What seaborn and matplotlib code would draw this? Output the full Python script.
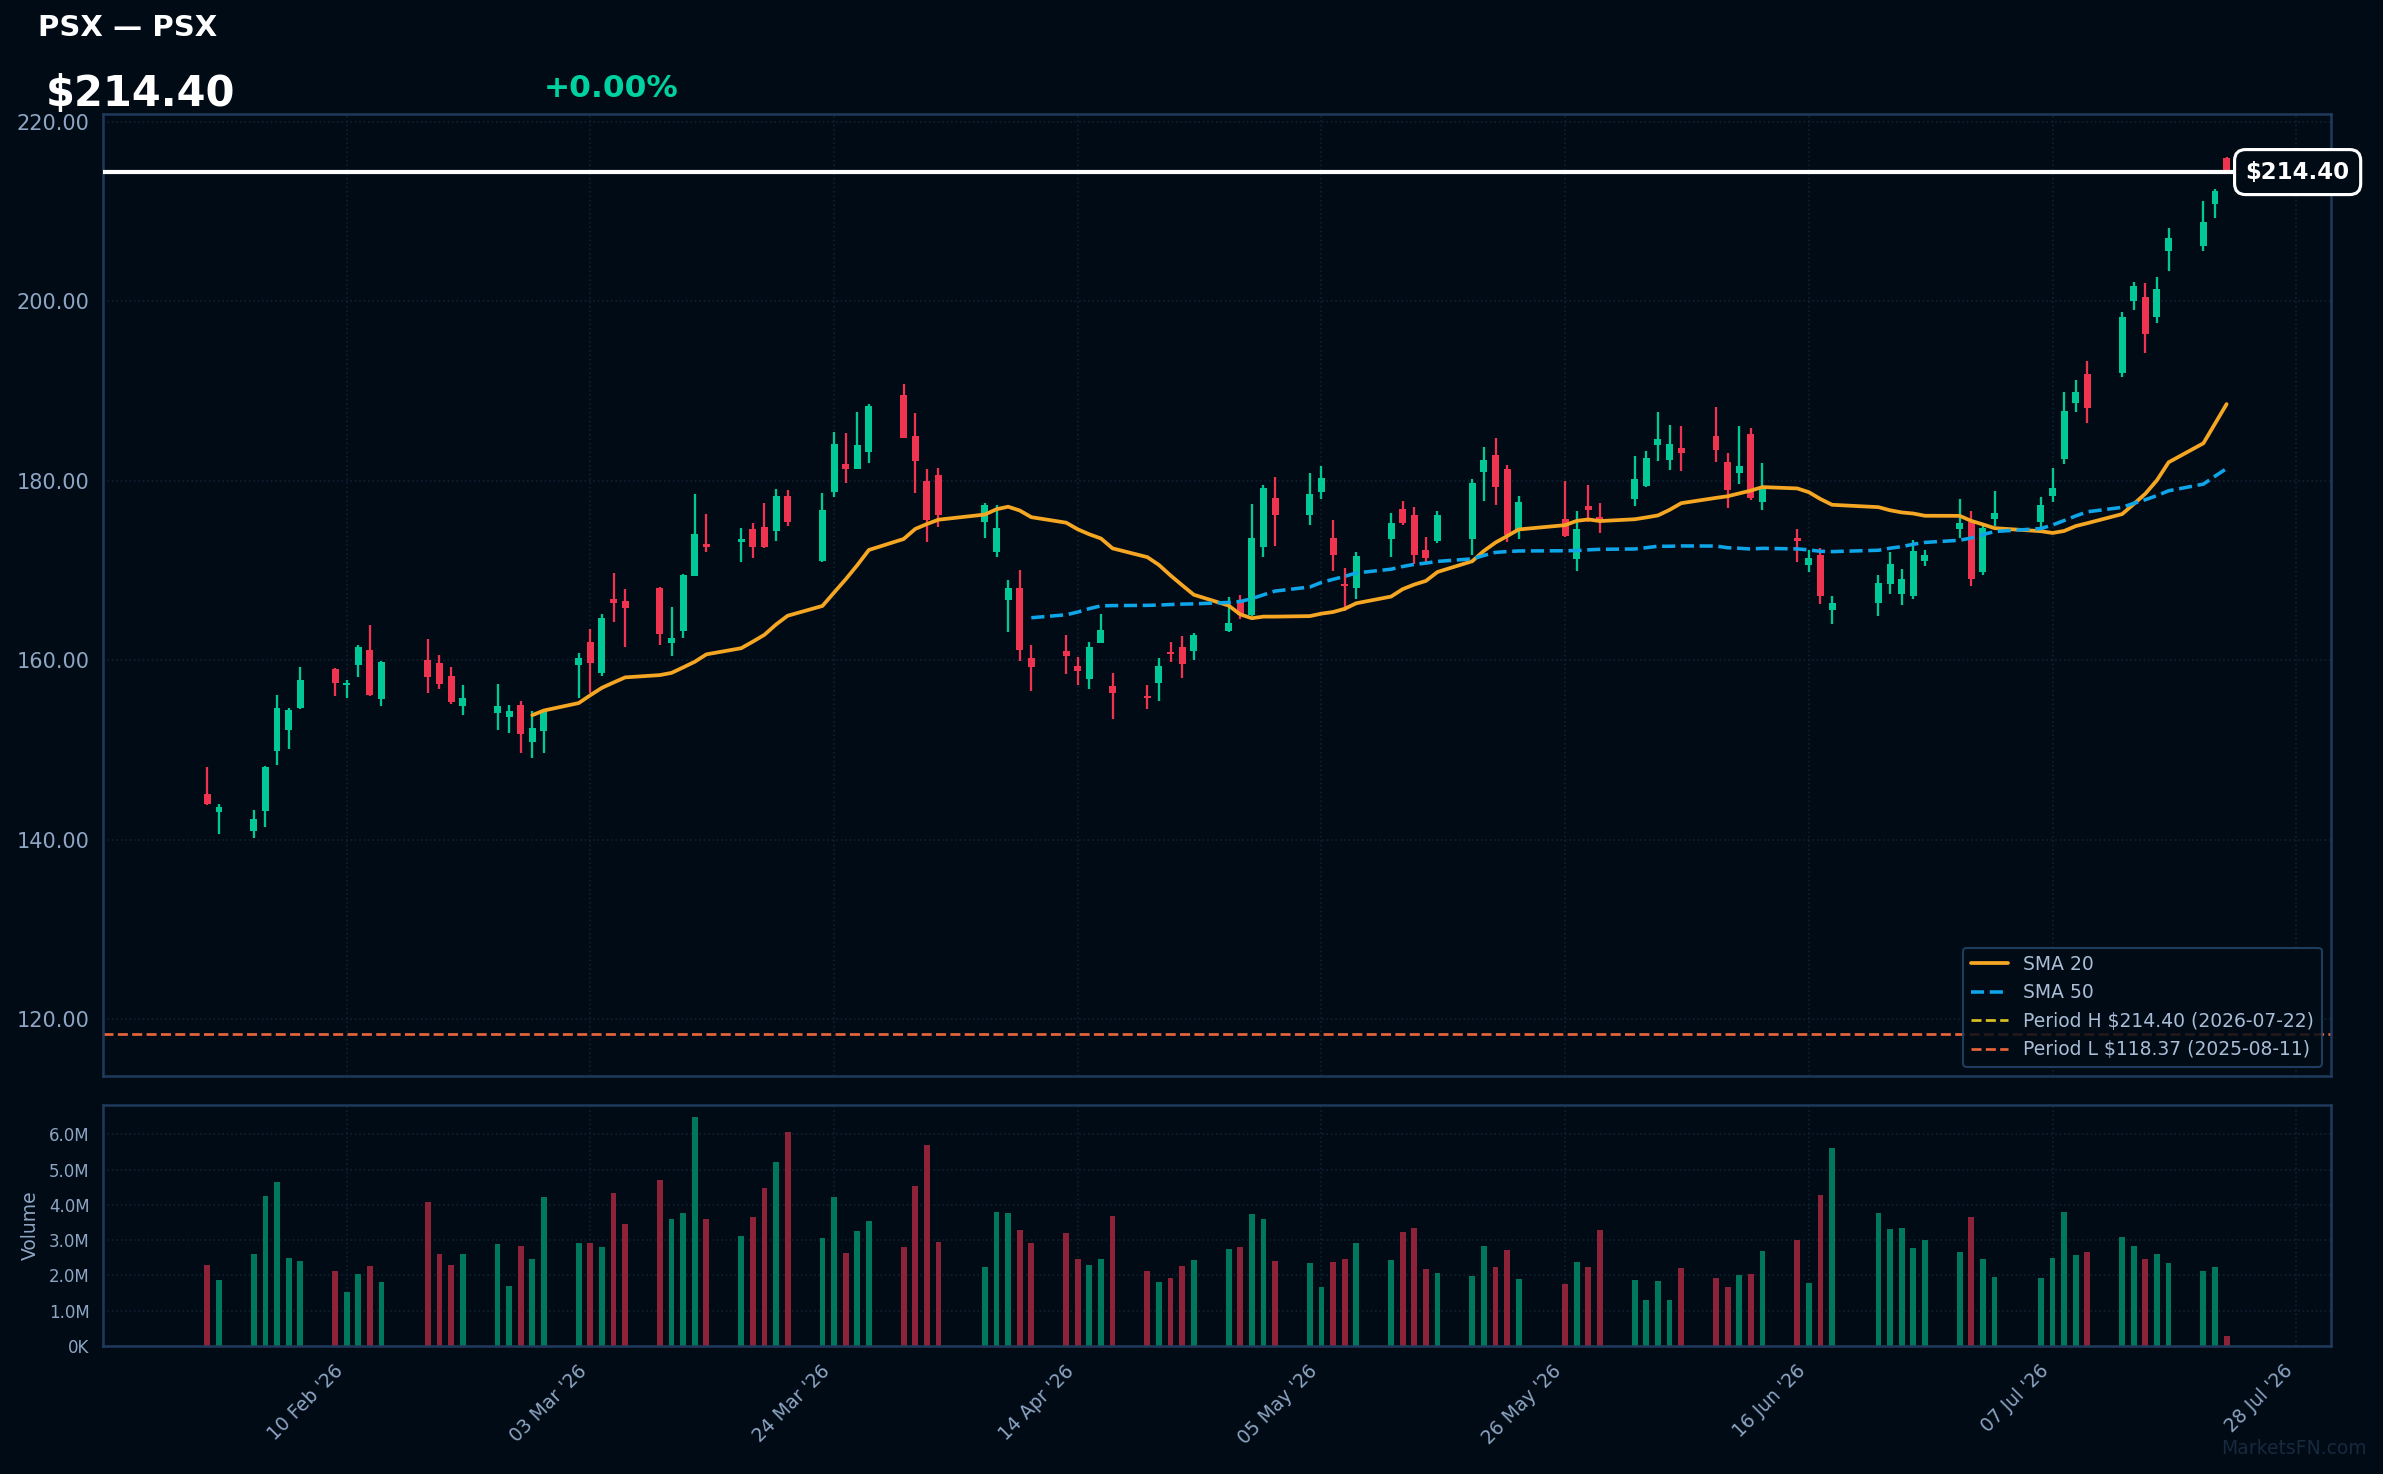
import pandas as pd
import numpy as np
import seaborn as sns
import matplotlib.pyplot as plt
import matplotlib.transforms as mtransforms
from matplotlib.ticker import FuncFormatter, MultipleLocator
import matplotlib.dates as mdates

# trading days (US market holidays removed)
holidays = ["2026-02-16", "2026-04-03", "2026-05-25", "2026-06-19", "2026-07-03"]
dates = pd.bdate_range("2026-01-29", "2026-07-22")
dates = dates[~dates.isin(pd.to_datetime(holidays))]

opens = [145.07, 143.09, 140.97, 143.20, 149.91, 152.25, 154.71, 159.03, 157.21, 159.40,
         161.15, 155.61, 160.00, 159.70, 158.25, 154.93, 154.15, 153.71, 155.01, 150.91,
         152.14, 159.50, 162.03, 158.58, 166.82, 166.59, 168.04, 161.94, 163.28, 169.42,
         172.85, 173.11, 174.64, 174.86, 174.34, 178.32, 171.10, 178.70, 181.90, 181.27,
         183.17, 189.50, 185.03, 179.96, 180.67, 175.36, 172.01, 166.67, 168.08, 160.26,
         161.04, 159.37, 157.84, 161.86, 157.13, 155.90, 157.50, 160.82, 161.49, 160.97,
         163.20, 166.74, 165.07, 172.59, 178.03, 176.16, 178.73, 173.56, 168.42, 168.01,
         173.46, 176.87, 176.20, 172.29, 173.33, 173.45, 180.93, 182.91, 181.34, 174.34,
         175.75, 171.32, 177.21, 175.98, 177.91, 179.44, 183.95, 182.27, 183.69, 185.03,
         182.12, 180.82, 185.25, 177.58, 173.63, 170.60, 171.70, 165.60, 166.40, 168.50,
         167.40, 167.10, 171.00, 174.60, 175.40, 169.80, 175.75, 175.40, 178.30, 182.40,
         188.66, 191.90, 192.05, 200.00, 200.50, 198.30, 205.60, 206.15, 210.85, 216.00]
highs = [148.08, 143.91, 143.28, 148.19, 156.13, 154.67, 159.26, 159.14, 157.80, 161.71,
         163.95, 159.93, 162.38, 160.60, 159.26, 157.24, 157.36, 155.01, 155.46, 154.34,
         154.45, 160.82, 163.48, 165.10, 169.72, 167.93, 168.16, 165.92, 169.61, 178.55,
         176.31, 174.75, 175.31, 177.54, 179.11, 178.99, 178.66, 185.47, 185.36, 187.71,
         188.60, 190.73, 187.49, 181.34, 181.45, 177.46, 177.34, 168.98, 170.09, 161.71,
         162.83, 160.37, 162.05, 165.18, 158.58, 157.24, 160.26, 162.05, 162.72, 163.05,
         167.08, 167.30, 177.36, 179.48, 180.37, 180.82, 181.60, 175.57, 170.32, 172.10,
         176.44, 177.77, 177.09, 173.74, 176.65, 180.22, 183.80, 184.80, 181.79, 178.32,
         180.00, 176.65, 179.55, 177.54, 182.79, 183.35, 187.60, 186.26, 186.15, 188.16,
         183.13, 186.15, 185.92, 182.01, 174.64, 172.30, 172.50, 167.10, 169.50, 172.00,
         170.20, 173.40, 172.30, 178.00, 176.60, 175.20, 178.80, 178.20, 181.40, 189.90,
         191.20, 193.30, 198.80, 202.20, 202.07, 202.70, 208.18, 211.15, 212.49, 216.10]
lows = [143.87, 140.63, 140.19, 141.42, 148.34, 150.13, 154.60, 156.05, 155.72, 158.06,
        156.05, 154.93, 156.28, 156.83, 155.05, 153.93, 152.25, 151.92, 149.65, 149.12,
        149.65, 155.72, 156.30, 158.25, 164.28, 161.49, 161.71, 160.48, 162.50, 169.42,
        172.10, 170.88, 171.43, 172.50, 173.22, 174.90, 170.88, 178.14, 179.70, 181.27,
        181.94, 184.73, 178.58, 173.11, 174.79, 173.58, 171.45, 163.09, 159.85, 156.50,
        158.40, 157.17, 156.83, 161.86, 153.48, 154.60, 155.49, 159.74, 157.95, 159.96,
        163.09, 164.54, 164.95, 171.47, 172.70, 175.05, 177.91, 169.91, 165.44, 166.78,
        171.45, 175.01, 170.76, 170.88, 173.00, 171.77, 177.69, 177.24, 173.11, 173.45,
        173.67, 169.98, 175.42, 174.19, 177.13, 179.26, 182.16, 181.15, 181.04, 182.05,
        176.91, 179.59, 177.80, 176.69, 170.99, 169.80, 166.20, 164.00, 164.90, 167.40,
        166.10, 166.80, 170.50, 173.60, 168.30, 169.50, 175.00, 174.80, 177.60, 181.90,
        187.70, 186.40, 191.60, 199.00, 194.26, 197.60, 203.40, 205.60, 209.29, 214.30]
closes = [143.95, 143.61, 142.27, 148.08, 154.67, 154.45, 157.80, 157.50, 157.32, 161.49,
          156.16, 159.81, 158.06, 157.39, 155.38, 155.79, 154.90, 154.34, 151.81, 152.44,
          154.34, 160.24, 159.72, 164.69, 166.41, 165.85, 162.94, 162.46, 169.50, 174.08,
          172.66, 173.52, 172.66, 172.66, 178.32, 175.34, 176.76, 184.13, 181.27, 184.02,
          188.27, 184.73, 182.16, 175.57, 176.13, 177.34, 174.75, 168.08, 161.08, 159.18,
          160.41, 158.73, 161.49, 163.39, 156.28, 155.72, 159.37, 160.67, 159.52, 162.83,
          164.17, 165.07, 173.56, 179.14, 176.16, 178.47, 180.26, 171.69, 168.23, 171.55,
          175.32, 175.31, 171.77, 171.43, 176.20, 179.78, 182.35, 179.26, 173.89, 177.65,
          173.78, 174.64, 176.69, 175.53, 180.22, 182.57, 184.69, 184.13, 183.05, 183.39,
          178.92, 181.68, 178.03, 179.26, 173.22, 171.40, 167.10, 166.40, 168.60, 170.70,
          169.00, 172.20, 171.70, 175.30, 169.00, 174.70, 176.40, 177.30, 179.15, 187.80,
          189.85, 188.15, 198.30, 201.70, 196.30, 201.40, 207.00, 208.86, 212.27, 214.40]
volumes_m = [2.30, 1.87, 2.61, 4.26, 4.66, 2.50, 2.41, 2.13, 1.53, 2.04,
             2.27, 1.81, 4.09, 2.61, 2.30, 2.61, 2.90, 1.70, 2.84, 2.47,
             4.23, 2.92, 2.92, 2.81, 4.35, 3.47, 4.72, 3.61, 3.78, 6.51,
             3.61, 3.12, 3.66, 4.49, 5.23, 6.06, 3.07, 4.23, 2.64, 3.27,
             3.55, 2.81, 4.55, 5.69, 2.95, 2.24, 3.81, 3.78, 3.29, 2.92,
             3.21, 2.47, 2.30, 2.47, 3.69, 2.13, 1.81, 1.93, 2.27, 2.44,
             2.75, 2.81, 3.75, 3.61, 2.41, 2.35, 1.67, 2.38, 2.47, 2.92,
             2.44, 3.24, 3.35, 2.18, 2.07, 1.98, 2.84, 2.24, 2.72, 1.90,
             1.76, 2.38, 2.24, 3.29, 1.87, 1.30, 1.84, 1.30, 2.21, 1.93,
             1.67, 2.01, 2.04, 2.70, 3.01, 1.78, 4.29, 5.63, 3.78, 3.32,
             3.35, 2.78, 3.01, 2.67, 3.66, 2.47, 1.96, 1.93, 2.50, 3.81,
             2.58, 2.67, 3.10, 2.84, 2.47, 2.61, 2.35, 2.13, 2.24, 0.28]

ticker = "PSX"
last_price = 214.40
period_high = 214.40
period_high_date = "2026-07-22"
period_low = 118.37
period_low_date = "2025-08-11"

# colours
BG = "#010b16"
UP = "#00c896"
DOWN = "#f0344f"
VOL_UP = "#00785d"
VOL_DOWN = "#8e2238"
SPINE = "#1f3a5c"
TXT = "#8ea6c4"
GRID = "#0f2031"

df = pd.DataFrame({"date": dates, "open": opens, "high": highs, "low": lows,
                   "close": closes, "volume": np.array(volumes_m) * 1e6})
df["sma20"] = df["close"].rolling(20).mean()
df["sma50"] = df["close"].rolling(50).mean()
up = df["close"] >= df["open"]

sns.set_theme(style="dark", rc={"axes.facecolor": BG, "figure.facecolor": BG,
                                "axes.edgecolor": SPINE, "text.color": "white"})
plt.rcParams["font.family"] = ["DejaVu Sans"]

fig = plt.figure(figsize=(2383 / 150, 1474 / 150), dpi=150)
ax = fig.add_axes([0.0432, 0.2700, 0.9350, 0.6524])
axv = fig.add_axes([0.0432, 0.0870, 0.9350, 0.1633], sharex=ax)

# candles
ax.vlines(df["date"], df["low"], df["high"], color=np.where(up, UP, DOWN), lw=1.1, zorder=3)
body_bottom = np.minimum(df["open"], df["close"])
body_height = np.maximum((df["close"] - df["open"]).abs(), 0.25)
ax.bar(df["date"], body_height, bottom=body_bottom, width=0.6,
       color=np.where(up, UP, DOWN), zorder=4, linewidth=0)

# moving averages
sns.lineplot(data=df, x="date", y="sma20", ax=ax, color="#f5a623", lw=1.8,
             label="SMA 20", zorder=5)
sns.lineplot(data=df, x="date", y="sma50", ax=ax, color="#0ea5e9", lw=1.7,
             linestyle="--", label="SMA 50", zorder=5)

ax.axhline(period_high, color="#d9c21f", lw=1.3, ls="--",
           label=f"Period H ${period_high:.2f} ({period_high_date})", zorder=2)
ax.axhline(period_low, color="#e8643c", lw=1.3, ls="--",
           label=f"Period L ${period_low:.2f} ({period_low_date})", zorder=2)
ax.axhline(last_price, color="white", lw=2.0, zorder=6)

trans = mtransforms.blended_transform_factory(ax.transAxes, ax.transData)
ax.text(0.985, last_price, f"${last_price:.2f}", transform=trans, ha="center", va="center",
        color="white", fontsize=11, fontweight="bold", zorder=10, clip_on=False,
        bbox=dict(boxstyle="round,pad=0.48", fc=BG, ec="white", lw=1.5))

# volume
axv.bar(df["date"], df["volume"], width=0.5, color=np.where(up, VOL_UP, VOL_DOWN), linewidth=0)

# axes limits / ticks
ax.set_xlim(df["date"].iloc[0] - pd.Timedelta(days=9), df["date"].iloc[-1] + pd.Timedelta(days=9))
ax.set_ylim(period_low * 0.96, period_high * 1.03)
axv.set_ylim(0, df["volume"].max() * 1.05)

xticks = pd.date_range("2026-02-10", periods=9, freq="21D")
axv.set_xticks(xticks)
axv.xaxis.set_major_formatter(mdates.DateFormatter("%d %b '%y"))
ax.yaxis.set_major_locator(MultipleLocator(20))
ax.yaxis.set_major_formatter(FuncFormatter(lambda v, p: f"{v:.2f}"))
axv.yaxis.set_major_locator(MultipleLocator(1e6))
axv.yaxis.set_major_formatter(FuncFormatter(lambda v, p: "0K" if v == 0 else f"{v / 1e6:.1f}M"))

for a in (ax, axv):
    a.grid(True, color=GRID, lw=0.8, ls=":")
    for s in a.spines.values():
        s.set_color(SPINE)
        s.set_linewidth(1.2)
    a.set_xlabel("")
    a.set_ylabel("")
ax.tick_params(axis="y", colors=TXT, labelsize=10, length=3)
ax.tick_params(axis="x", length=0, labelbottom=False)
axv.tick_params(axis="y", colors=TXT, labelsize=8, length=3)
axv.tick_params(axis="x", colors=TXT, labelsize=9, length=4)
plt.setp(axv.get_xticklabels(), rotation=45, ha="right")
axv.set_ylabel("Volume", color=TXT, fontsize=9)

leg = ax.legend(loc="lower right", fontsize=9, facecolor=BG, edgecolor="#24466b",
                labelcolor="#a9bdd6", framealpha=0.85, borderaxespad=0.5)
leg.set_zorder(20)

# header texts
fig.text(0.016, 0.981, f"{ticker} — {ticker}", fontsize=14, fontweight="bold",
         color="white", va="center")
fig.text(0.019, 0.936, f"${last_price:.2f}", fontsize=20, fontweight="bold",
         color="white", va="center")
fig.text(0.228, 0.940, "+0.00%", fontsize=15, fontweight="bold", color="#00d1a0", va="center")
fig.text(0.993, 0.0175, "MarketsFN.com", fontsize=9, color="#17293d", ha="right", va="center")

fig.savefig("out.png", dpi=150, facecolor=BG)
